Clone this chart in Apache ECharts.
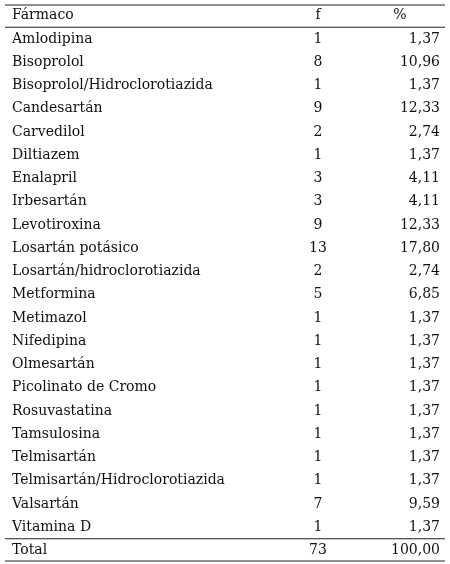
<!DOCTYPE html><html><head><meta charset="utf-8">
<script src="https://cdn.jsdelivr.net/npm/echarts@6/dist/echarts.min.js"></script>
<style>html,body{margin:0;background:#fff}#c{width:450px;height:564px}</style></head><body><div id="c"></div>
<script>
const headers = ['Fármaco','f','%'];
const names = ['Amlodipina','Bisoprolol','Bisoprolol/Hidroclorotiazida','Candesartán','Carvedilol','Diltiazem','Enalapril','Irbesartán','Levotiroxina','Losartán potásico','Losartán/hidroclorotiazida','Metformina','Metimazol','Nifedipina','Olmesartán','Picolinato de Cromo','Rosuvastatina','Tamsulosina','Telmisartán','Telmisartán/Hidroclorotiazida','Valsartán','Vitamina D','Total'];
const freq = ['1','8','1','9','2','1','3','3','9','13','2','5','1','1','1','1','1','1','1','1','7','1','73'];
const pct = ['1,37','10,96','1,37','12,33','2,74','1,37','4,11','4,11','12,33','17,80','2,74','6,85','1,37','1,37','1,37','1,37','1,37','1,37','1,37','1,37','9,59','1,37','100,00'];
const rows = [headers].concat(names.map((n,i)=>[n,freq[i],pct[i]]));
const cats = rows.map((r,i)=>String(i));
const font = '14px "DejaVu Serif", serif';
const chart = echarts.init(document.getElementById('c'));
chart.setOption({
  animation:false,
  grid:{left:0,right:0,top:4,bottom:2},
  xAxis:{type:'value',min:0,max:450,show:false},
  yAxis:{type:'category',data:cats,inverse:true,show:false},
  series:[{type:'custom',data:rows.map((r,i)=>[0,i]),encode:{x:0,y:1},
    renderItem:function(params,api){
      const i=api.value(1); const r=rows[i];
      const p=api.coord([0,i]); const y=p[1]; const h=api.size([0,1])[1];
      const st=(t,x,align)=>({type:'text',style:{text:t,x:x,y:y,font:font,fill:'#111',align:align,verticalAlign:'middle'}});
      const ch=[st(r[0],12,'left'),st(r[1],318,'center'),i===0?st(r[2],400,'center'):st(r[2],440,'right')];
      const ln=yy=>({type:'line',shape:{x1:5,y1:yy,x2:445,y2:yy},style:{stroke:'#222',lineWidth:1}});
      if(i===0){ch.push(ln(y-h/2+1),ln(y+h/2));}
      if(i===rows.length-1){ch.push(ln(y-h/2),ln(y+h/2-1));}
      return {type:'group',children:ch};
    }}]
});
</script></body></html>
